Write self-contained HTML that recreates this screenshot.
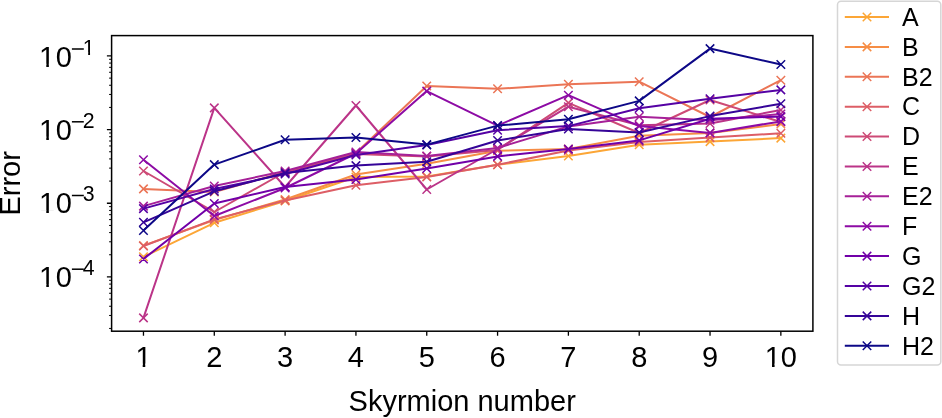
<!DOCTYPE html>
<html><head><meta charset="utf-8"><style>
html,body{margin:0;padding:0;background:#fff;}
svg{display:block;will-change:transform;}
text{font-family:"Liberation Sans",sans-serif;fill:#000;}
</style></head><body>
<svg width="942" height="418" viewBox="0 0 942 418">
<rect x="0" y="0" width="942" height="418" fill="#fff"/>

<defs><clipPath id="ax"><rect x="111.6" y="35.6" width="701.3" height="295.59999999999997"/></clipPath></defs>
<g clip-path="url(#ax)" fill="none" stroke-linejoin="round" stroke-linecap="butt">
<polyline points="143.47,256.80 214.29,222.80 285.11,201.00 355.93,177.00 426.75,176.50 497.57,164.70 568.39,156.00 639.21,144.80 710.03,141.60 780.85,138.10" stroke="#fca636" stroke-width="2.0"/>
<path d="M139.22 252.55L147.72 261.05M139.22 261.05L147.72 252.55M210.04 218.55L218.54 227.05M210.04 227.05L218.54 218.55M280.86 196.75L289.36 205.25M280.86 205.25L289.36 196.75M351.68 172.75L360.18 181.25M351.68 181.25L360.18 172.75M422.50 172.25L431.00 180.75M422.50 180.75L431.00 172.25M493.32 160.45L501.82 168.95M493.32 168.95L501.82 160.45M564.14 151.75L572.64 160.25M564.14 160.25L572.64 151.75M634.96 140.55L643.46 149.05M634.96 149.05L643.46 140.55M705.78 137.35L714.28 145.85M705.78 145.85L714.28 137.35M776.60 133.85L785.10 142.35M776.60 142.35L785.10 133.85" stroke="#fca636" stroke-width="1.5"/>
<polyline points="143.47,245.60 214.29,220.00 285.11,199.50 355.93,174.50 426.75,163.80 497.57,150.70 568.39,149.00 639.21,135.70 710.03,133.00 780.85,124.00" stroke="#f68d45" stroke-width="2.0"/>
<path d="M139.22 241.35L147.72 249.85M139.22 249.85L147.72 241.35M210.04 215.75L218.54 224.25M210.04 224.25L218.54 215.75M280.86 195.25L289.36 203.75M280.86 203.75L289.36 195.25M351.68 170.25L360.18 178.75M351.68 178.75L360.18 170.25M422.50 159.55L431.00 168.05M422.50 168.05L431.00 159.55M493.32 146.45L501.82 154.95M493.32 154.95L501.82 146.45M564.14 144.75L572.64 153.25M564.14 153.25L572.64 144.75M634.96 131.45L643.46 139.95M634.96 139.95L643.46 131.45M705.78 128.75L714.28 137.25M705.78 137.25L714.28 128.75M776.60 119.75L785.10 128.25M776.60 128.25L785.10 119.75" stroke="#f68d45" stroke-width="1.5"/>
<polyline points="143.47,188.90 214.29,192.00 285.11,172.00 355.93,153.00 426.75,86.00 497.57,88.80 568.39,84.30 639.21,81.70 710.03,117.00 780.85,80.20" stroke="#eb7556" stroke-width="2.0"/>
<path d="M139.22 184.65L147.72 193.15M139.22 193.15L147.72 184.65M210.04 187.75L218.54 196.25M210.04 196.25L218.54 187.75M280.86 167.75L289.36 176.25M280.86 176.25L289.36 167.75M351.68 148.75L360.18 157.25M351.68 157.25L360.18 148.75M422.50 81.75L431.00 90.25M422.50 90.25L431.00 81.75M493.32 84.55L501.82 93.05M493.32 93.05L501.82 84.55M564.14 80.05L572.64 88.55M564.14 88.55L572.64 80.05M634.96 77.45L643.46 85.95M634.96 85.95L643.46 77.45M705.78 112.75L714.28 121.25M705.78 121.25L714.28 112.75M776.60 75.95L785.10 84.45M776.60 84.45L785.10 75.95" stroke="#eb7556" stroke-width="1.5"/>
<polyline points="143.47,246.00 214.29,219.40 285.11,200.50 355.93,185.20 426.75,177.00 497.57,164.70 568.39,150.50 639.21,142.00 710.03,137.60 780.85,133.30" stroke="#dd5e66" stroke-width="2.0"/>
<path d="M139.22 241.75L147.72 250.25M139.22 250.25L147.72 241.75M210.04 215.15L218.54 223.65M210.04 223.65L218.54 215.15M280.86 196.25L289.36 204.75M280.86 204.75L289.36 196.25M351.68 180.95L360.18 189.45M351.68 189.45L360.18 180.95M422.50 172.75L431.00 181.25M422.50 181.25L431.00 172.75M493.32 160.45L501.82 168.95M493.32 168.95L501.82 160.45M564.14 146.25L572.64 154.75M564.14 154.75L572.64 146.25M634.96 137.75L643.46 146.25M634.96 146.25L643.46 137.75M705.78 133.35L714.28 141.85M705.78 141.85L714.28 133.35M776.60 129.05L785.10 137.55M776.60 137.55L785.10 129.05" stroke="#dd5e66" stroke-width="1.5"/>
<polyline points="143.47,171.00 214.29,212.00 285.11,172.00 355.93,154.00 426.75,156.40 497.57,149.90 568.39,102.90 639.21,133.00 710.03,100.00 780.85,122.00" stroke="#cd4a76" stroke-width="2.0"/>
<path d="M139.22 166.75L147.72 175.25M139.22 175.25L147.72 166.75M210.04 207.75L218.54 216.25M210.04 216.25L218.54 207.75M280.86 167.75L289.36 176.25M280.86 176.25L289.36 167.75M351.68 149.75L360.18 158.25M351.68 158.25L360.18 149.75M422.50 152.15L431.00 160.65M422.50 160.65L431.00 152.15M493.32 145.65L501.82 154.15M493.32 154.15L501.82 145.65M564.14 98.65L572.64 107.15M564.14 107.15L572.64 98.65M634.96 128.75L643.46 137.25M634.96 137.25L643.46 128.75M705.78 95.75L714.28 104.25M705.78 104.25L714.28 95.75M776.60 117.75L785.10 126.25M776.60 126.25L785.10 117.75" stroke="#cd4a76" stroke-width="1.5"/>
<polyline points="143.47,317.90 214.29,107.90 285.11,187.00 355.93,105.50 426.75,189.50 497.57,149.00 568.39,106.70 639.21,125.30 710.03,123.50 780.85,110.00" stroke="#bb3488" stroke-width="2.0"/>
<path d="M139.22 313.65L147.72 322.15M139.22 322.15L147.72 313.65M210.04 103.65L218.54 112.15M210.04 112.15L218.54 103.65M280.86 182.75L289.36 191.25M280.86 191.25L289.36 182.75M351.68 101.25L360.18 109.75M351.68 109.75L360.18 101.25M422.50 185.25L431.00 193.75M422.50 193.75L431.00 185.25M493.32 144.75L501.82 153.25M493.32 153.25L501.82 144.75M564.14 102.45L572.64 110.95M564.14 110.95L572.64 102.45M634.96 121.05L643.46 129.55M634.96 129.55L643.46 121.05M705.78 119.25L714.28 127.75M705.78 127.75L714.28 119.25M776.60 105.75L785.10 114.25M776.60 114.25L785.10 105.75" stroke="#bb3488" stroke-width="1.5"/>
<polyline points="143.47,206.10 214.29,186.00 285.11,171.00 355.93,152.00 426.75,156.00 497.57,148.00 568.39,126.40 639.21,116.70 710.03,120.20 780.85,114.00" stroke="#a62098" stroke-width="2.0"/>
<path d="M139.22 201.85L147.72 210.35M139.22 210.35L147.72 201.85M210.04 181.75L218.54 190.25M210.04 190.25L218.54 181.75M280.86 166.75L289.36 175.25M280.86 175.25L289.36 166.75M351.68 147.75L360.18 156.25M351.68 156.25L360.18 147.75M422.50 151.75L431.00 160.25M422.50 160.25L431.00 151.75M493.32 143.75L501.82 152.25M493.32 152.25L501.82 143.75M564.14 122.15L572.64 130.65M564.14 130.65L572.64 122.15M634.96 112.45L643.46 120.95M634.96 120.95L643.46 112.45M705.78 115.95L714.28 124.45M705.78 124.45L714.28 115.95M776.60 109.75L785.10 118.25M776.60 118.25L785.10 109.75" stroke="#a62098" stroke-width="1.5"/>
<polyline points="143.47,159.80 214.29,216.00 285.11,188.00 355.93,153.50 426.75,91.10 497.57,125.60 568.39,95.20 639.21,126.10 710.03,132.90 780.85,121.40" stroke="#8d0ba5" stroke-width="2.0"/>
<path d="M139.22 155.55L147.72 164.05M139.22 164.05L147.72 155.55M210.04 211.75L218.54 220.25M210.04 220.25L218.54 211.75M280.86 183.75L289.36 192.25M280.86 192.25L289.36 183.75M351.68 149.25L360.18 157.75M351.68 157.75L360.18 149.25M422.50 86.85L431.00 95.35M422.50 95.35L431.00 86.85M493.32 121.35L501.82 129.85M493.32 129.85L501.82 121.35M564.14 90.95L572.64 99.45M564.14 99.45L572.64 90.95M634.96 121.85L643.46 130.35M634.96 130.35L643.46 121.85M705.78 128.65L714.28 137.15M705.78 137.15L714.28 128.65M776.60 117.15L785.10 125.65M776.60 125.65L785.10 117.15" stroke="#8d0ba5" stroke-width="1.5"/>
<polyline points="143.47,259.00 214.29,203.50 285.11,187.00 355.93,179.50 426.75,168.50 497.57,156.40 568.39,149.10 639.21,140.40 710.03,118.70 780.85,116.60" stroke="#7100a8" stroke-width="2.0"/>
<path d="M139.22 254.75L147.72 263.25M139.22 263.25L147.72 254.75M210.04 199.25L218.54 207.75M210.04 207.75L218.54 199.25M280.86 182.75L289.36 191.25M280.86 191.25L289.36 182.75M351.68 175.25L360.18 183.75M351.68 183.75L360.18 175.25M422.50 164.25L431.00 172.75M422.50 172.75L431.00 164.25M493.32 152.15L501.82 160.65M493.32 160.65L501.82 152.15M564.14 144.85L572.64 153.35M564.14 153.35L572.64 144.85M634.96 136.15L643.46 144.65M634.96 144.65L643.46 136.15M705.78 114.45L714.28 122.95M705.78 122.95L714.28 114.45M776.60 112.35L785.10 120.85M776.60 120.85L785.10 112.35" stroke="#7100a8" stroke-width="1.5"/>
<polyline points="143.47,208.60 214.29,189.00 285.11,174.00 355.93,155.00 426.75,145.00 497.57,130.20 568.39,126.10 639.21,108.20 710.03,98.70 780.85,89.90" stroke="#5502a4" stroke-width="2.0"/>
<path d="M139.22 204.35L147.72 212.85M139.22 212.85L147.72 204.35M210.04 184.75L218.54 193.25M210.04 193.25L218.54 184.75M280.86 169.75L289.36 178.25M280.86 178.25L289.36 169.75M351.68 150.75L360.18 159.25M351.68 159.25L360.18 150.75M422.50 140.75L431.00 149.25M422.50 149.25L431.00 140.75M493.32 125.95L501.82 134.45M493.32 134.45L501.82 125.95M564.14 121.85L572.64 130.35M564.14 130.35L572.64 121.85M634.96 103.95L643.46 112.45M634.96 112.45L643.46 103.95M705.78 94.45L714.28 102.95M705.78 102.95L714.28 94.45M776.60 85.65L785.10 94.15M776.60 94.15L785.10 85.65" stroke="#5502a4" stroke-width="1.5"/>
<polyline points="143.47,222.30 214.29,191.30 285.11,172.90 355.93,165.60 426.75,161.80 497.57,140.50 568.39,129.00 639.21,132.50 710.03,116.10 780.85,103.70" stroke="#350498" stroke-width="2.0"/>
<path d="M139.22 218.05L147.72 226.55M139.22 226.55L147.72 218.05M210.04 187.05L218.54 195.55M210.04 195.55L218.54 187.05M280.86 168.65L289.36 177.15M280.86 177.15L289.36 168.65M351.68 161.35L360.18 169.85M351.68 169.85L360.18 161.35M422.50 157.55L431.00 166.05M422.50 166.05L431.00 157.55M493.32 136.25L501.82 144.75M493.32 144.75L501.82 136.25M564.14 124.75L572.64 133.25M564.14 133.25L572.64 124.75M634.96 128.25L643.46 136.75M634.96 136.75L643.46 128.25M705.78 111.85L714.28 120.35M705.78 120.35L714.28 111.85M776.60 99.45L785.10 107.95M776.60 107.95L785.10 99.45" stroke="#350498" stroke-width="1.5"/>
<polyline points="143.47,230.50 214.29,164.60 285.11,139.80 355.93,137.50 426.75,144.60 497.57,125.60 568.39,119.30 639.21,100.90 710.03,48.60 780.85,64.50" stroke="#0d0887" stroke-width="2.0"/>
<path d="M139.22 226.25L147.72 234.75M139.22 234.75L147.72 226.25M210.04 160.35L218.54 168.85M210.04 168.85L218.54 160.35M280.86 135.55L289.36 144.05M280.86 144.05L289.36 135.55M351.68 133.25L360.18 141.75M351.68 141.75L360.18 133.25M422.50 140.35L431.00 148.85M422.50 148.85L431.00 140.35M493.32 121.35L501.82 129.85M493.32 129.85L501.82 121.35M564.14 115.05L572.64 123.55M564.14 123.55L572.64 115.05M634.96 96.65L643.46 105.15M634.96 105.15L643.46 96.65M705.78 44.35L714.28 52.85M705.78 52.85L714.28 44.35M776.60 60.25L785.10 68.75M776.60 68.75L785.10 60.25" stroke="#0d0887" stroke-width="1.5"/>
</g>
<path d="M143.47 331.20V335.80M214.29 331.20V335.80M285.11 331.20V335.80M355.93 331.20V335.80M426.75 331.20V335.80M497.57 331.20V335.80M568.39 331.20V335.80M639.21 331.20V335.80M710.03 331.20V335.80M780.85 331.20V335.80" stroke="#000" stroke-width="1.3" fill="none"/>
<path d="M111.60 276.94H106.90M111.60 203.27H106.90M111.60 129.60H106.90M111.60 55.93H106.90" stroke="#000" stroke-width="1.3" fill="none"/>
<path d="M111.60 328.43H109.10M111.60 315.46H109.10M111.60 306.26H109.10M111.60 299.12H109.10M111.60 293.28H109.10M111.60 288.35H109.10M111.60 284.08H109.10M111.60 280.31H109.10M111.60 254.76H109.10M111.60 241.79H109.10M111.60 232.59H109.10M111.60 225.45H109.10M111.60 219.61H109.10M111.60 214.68H109.10M111.60 210.41H109.10M111.60 206.64H109.10M111.60 181.09H109.10M111.60 168.12H109.10M111.60 158.92H109.10M111.60 151.78H109.10M111.60 145.94H109.10M111.60 141.01H109.10M111.60 136.74H109.10M111.60 132.97H109.10M111.60 107.42H109.10M111.60 94.45H109.10M111.60 85.25H109.10M111.60 78.11H109.10M111.60 72.27H109.10M111.60 67.34H109.10M111.60 63.07H109.10M111.60 59.30H109.10" stroke="#000" stroke-width="1.0" fill="none"/>
<rect x="111.6" y="35.6" width="701.3" height="295.59999999999997" fill="none" stroke="#000" stroke-width="1.5"/>
<text x="143.47" y="366.8" font-size="29" text-anchor="middle">1</text>
<text x="214.29" y="366.8" font-size="29" text-anchor="middle">2</text>
<text x="285.11" y="366.8" font-size="29" text-anchor="middle">3</text>
<text x="355.93" y="366.8" font-size="29" text-anchor="middle">4</text>
<text x="426.75" y="366.8" font-size="29" text-anchor="middle">5</text>
<text x="497.57" y="366.8" font-size="29" text-anchor="middle">6</text>
<text x="568.39" y="366.8" font-size="29" text-anchor="middle">7</text>
<text x="639.21" y="366.8" font-size="29" text-anchor="middle">8</text>
<text x="710.03" y="366.8" font-size="29" text-anchor="middle">9</text>
<text x="780.85" y="366.8" font-size="29" text-anchor="middle">10</text>
<text x="39.0" y="66.90" font-size="29">1</text>
<text x="55.8" y="66.90" font-size="29">0</text>
<rect x="71.9" y="48.25" width="11.9" height="1.5" fill="#000"/>
<text x="82.8" y="54.75" font-size="21.3">1</text>
<text x="39.0" y="139.70" font-size="29">1</text>
<text x="55.8" y="139.70" font-size="29">0</text>
<rect x="71.9" y="121.05" width="11.9" height="1.5" fill="#000"/>
<text x="82.8" y="127.55" font-size="21.3">2</text>
<text x="39.0" y="213.40" font-size="29">1</text>
<text x="55.8" y="213.40" font-size="29">0</text>
<rect x="71.9" y="194.75" width="11.9" height="1.5" fill="#000"/>
<text x="82.8" y="201.25" font-size="21.3">3</text>
<text x="39.0" y="287.10" font-size="29">1</text>
<text x="55.8" y="287.10" font-size="29">0</text>
<rect x="71.9" y="268.45" width="11.9" height="1.5" fill="#000"/>
<text x="82.8" y="274.95" font-size="21.3">4</text>
<rect x="134.91" y="363.63" width="7.79" height="3.77" fill="#fff"/>
<rect x="145.26" y="363.63" width="6.27" height="3.77" fill="#fff"/>
<rect x="764.22" y="363.63" width="7.79" height="3.77" fill="#fff"/>
<rect x="774.58" y="363.63" width="6.27" height="3.77" fill="#fff"/>
<rect x="38.50" y="63.73" width="7.79" height="3.77" fill="#fff"/>
<rect x="48.86" y="63.73" width="6.27" height="3.77" fill="#fff"/>
<rect x="82.30" y="52.16" width="5.86" height="3.19" fill="#fff"/>
<rect x="90.04" y="52.16" width="4.61" height="3.19" fill="#fff"/>
<rect x="38.50" y="136.53" width="7.79" height="3.77" fill="#fff"/>
<rect x="48.86" y="136.53" width="6.27" height="3.77" fill="#fff"/>
<rect x="38.50" y="210.23" width="7.79" height="3.77" fill="#fff"/>
<rect x="48.86" y="210.23" width="6.27" height="3.77" fill="#fff"/>
<rect x="38.50" y="283.93" width="7.79" height="3.77" fill="#fff"/>
<rect x="48.86" y="283.93" width="6.27" height="3.77" fill="#fff"/>
<text x="462.2" y="410.5" font-size="29" text-anchor="middle">Skyrmion number</text>
<text transform="translate(20.4,183.4) rotate(-90)" font-size="29" text-anchor="middle">Error</text>
<rect x="837.5" y="1.2" width="103.3" height="363.8" rx="3.5" ry="3.5" fill="#fff" fill-opacity="0.8" stroke="#d6d6d6" stroke-width="1.5"/>
<path d="M844.8 17.00H889" stroke="#fca636" stroke-width="2.0" fill="none"/>
<path d="M862.75 12.75L871.25 21.25M862.75 21.25L871.25 12.75" stroke="#fca636" stroke-width="1.5" fill="none"/>
<text x="902" y="25.80" font-size="25">A</text>
<path d="M844.8 46.89H889" stroke="#f68d45" stroke-width="2.0" fill="none"/>
<path d="M862.75 42.64L871.25 51.14M862.75 51.14L871.25 42.64" stroke="#f68d45" stroke-width="1.5" fill="none"/>
<text x="902" y="55.69" font-size="25">B</text>
<path d="M844.8 76.78H889" stroke="#eb7556" stroke-width="2.0" fill="none"/>
<path d="M862.75 72.53L871.25 81.03M862.75 81.03L871.25 72.53" stroke="#eb7556" stroke-width="1.5" fill="none"/>
<text x="902" y="85.58" font-size="25">B2</text>
<path d="M844.8 106.67H889" stroke="#dd5e66" stroke-width="2.0" fill="none"/>
<path d="M862.75 102.42L871.25 110.92M862.75 110.92L871.25 102.42" stroke="#dd5e66" stroke-width="1.5" fill="none"/>
<text x="902" y="115.47" font-size="25">C</text>
<path d="M844.8 136.56H889" stroke="#cd4a76" stroke-width="2.0" fill="none"/>
<path d="M862.75 132.31L871.25 140.81M862.75 140.81L871.25 132.31" stroke="#cd4a76" stroke-width="1.5" fill="none"/>
<text x="902" y="145.36" font-size="25">D</text>
<path d="M844.8 166.45H889" stroke="#bb3488" stroke-width="2.0" fill="none"/>
<path d="M862.75 162.20L871.25 170.70M862.75 170.70L871.25 162.20" stroke="#bb3488" stroke-width="1.5" fill="none"/>
<text x="902" y="175.25" font-size="25">E</text>
<path d="M844.8 196.34H889" stroke="#a62098" stroke-width="2.0" fill="none"/>
<path d="M862.75 192.09L871.25 200.59M862.75 200.59L871.25 192.09" stroke="#a62098" stroke-width="1.5" fill="none"/>
<text x="902" y="205.14" font-size="25">E2</text>
<path d="M844.8 226.23H889" stroke="#8d0ba5" stroke-width="2.0" fill="none"/>
<path d="M862.75 221.98L871.25 230.48M862.75 230.48L871.25 221.98" stroke="#8d0ba5" stroke-width="1.5" fill="none"/>
<text x="902" y="235.03" font-size="25">F</text>
<path d="M844.8 256.12H889" stroke="#7100a8" stroke-width="2.0" fill="none"/>
<path d="M862.75 251.87L871.25 260.37M862.75 260.37L871.25 251.87" stroke="#7100a8" stroke-width="1.5" fill="none"/>
<text x="902" y="264.92" font-size="25">G</text>
<path d="M844.8 286.01H889" stroke="#5502a4" stroke-width="2.0" fill="none"/>
<path d="M862.75 281.76L871.25 290.26M862.75 290.26L871.25 281.76" stroke="#5502a4" stroke-width="1.5" fill="none"/>
<text x="902" y="294.81" font-size="25">G2</text>
<path d="M844.8 315.90H889" stroke="#350498" stroke-width="2.0" fill="none"/>
<path d="M862.75 311.65L871.25 320.15M862.75 320.15L871.25 311.65" stroke="#350498" stroke-width="1.5" fill="none"/>
<text x="902" y="324.70" font-size="25">H</text>
<path d="M844.8 345.79H889" stroke="#0d0887" stroke-width="2.0" fill="none"/>
<path d="M862.75 341.54L871.25 350.04M862.75 350.04L871.25 341.54" stroke="#0d0887" stroke-width="1.5" fill="none"/>
<text x="902" y="354.59" font-size="25">H2</text>
</svg></body></html>
